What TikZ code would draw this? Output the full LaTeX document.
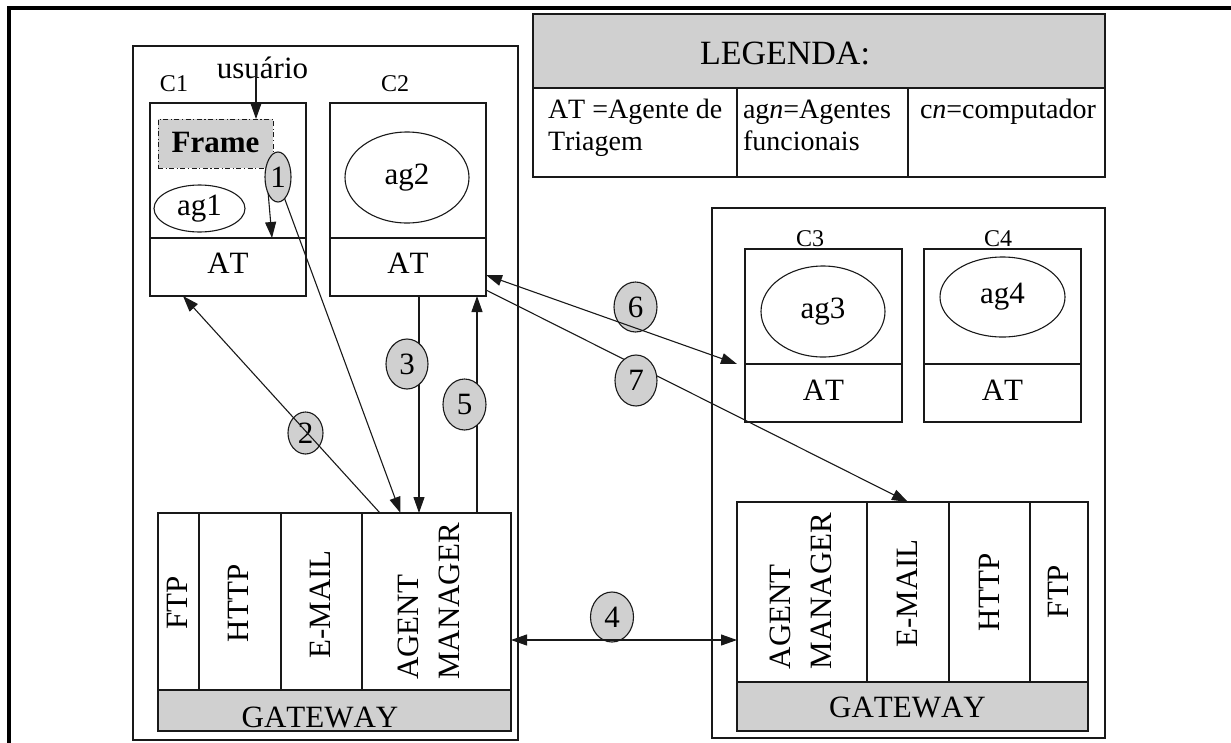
\documentclass[tikz,border=0pt]{standalone}
\usepackage{fontspec}
\setmainfont{Liberation Serif}[Kerning=Off]
\usetikzlibrary{arrows.meta,shapes.geometric}
\definecolor{lg}{RGB}{208,208,208}
\definecolor{dk}{RGB}{25,25,25}
\newcommand{\fsM}{\fontsize{31}{41}\selectfont}
\newcommand{\fsC}{\fontsize{24}{28}\selectfont}
\newcommand{\fsL}{\fontsize{28}{32}\selectfont}
\newcommand{\fsH}{\fontsize{34}{38}\selectfont}
\begin{document}
\begin{tikzpicture}[x=1pt,y=-1pt,
  box/.style={draw=dk, line width=1.1pt, rectangle, inner sep=0pt, outer sep=0pt},
  gbox/.style={box, fill=lg},
  ell/.style={draw=dk, line width=1.1pt, ellipse, inner sep=0pt, outer sep=0pt, font=\fsM},
  num/.style={ell, fill=lg},
  txt/.style={inner sep=0pt, outer sep=0pt, font=\fsM},
  ltxt/.style={inner sep=0pt, outer sep=0pt, font=\fsL, anchor=base west},
  attext/.style={font=\fsM, text height=13pt, text depth=0pt},
  arr/.style={draw=dk, line width=1.1pt, -{Triangle[length=16pt,width=11pt]}},
  darr/.style={draw=dk, line width=1.1pt, {Triangle[length=16pt,width=11pt]}-{Triangle[length=16pt,width=11pt]}}
]
\useasboundingbox (0,0) rectangle (1231,742);

% outer frame
\draw[line width=3.6pt] (9,745) -- (9,8) -- (1235,8);

% group boxes
\node[box, minimum width=385pt, minimum height=694pt] (g1) at (325.5,393) {};
\node[box, minimum width=393pt, minimum height=530pt] (g2) at (908.5,473) {};

% legend
\node[gbox, minimum width=572pt, minimum height=74pt] (legh) at (819,51) {};
\node[box, minimum width=204pt, minimum height=89pt] (leg1) at (635,132.5) {};
\node[box, minimum width=171pt, minimum height=89pt] (leg2) at (822.5,132.5) {};
\node[box, minimum width=197pt, minimum height=89pt] (leg3) at (1006.5,132.5) {};
\node[txt, font=\fsH, anchor=base] (tleg) at (785,64) {LEGENDA:};
\node[ltxt] (l1a) at (548,118) {AT =Agente de};
\node[ltxt] (l1b) at (548,150) {Triagem};
\node[ltxt] (l2a) at (743,118) {ag\textit{n}=Agentes};
\node[ltxt] (l2b) at (743,150) {funcionais};
\node[ltxt] (l3a) at (920,118) {c\textit{n}=computador};

% computers C1, C2
\node[box, minimum width=156pt, minimum height=135pt] (c1top) at (228,170.5) {};
\node[box, attext, text height=12pt, minimum width=156pt, minimum height=58pt] (c1at) at (228,267) {AT};
\node[box, minimum width=156pt, minimum height=135pt] (c2top) at (408,170.5) {};
\node[box, attext, text height=12pt, minimum width=156pt, minimum height=58pt] (c2at) at (408,267) {AT};
\node[txt, font=\fsC, anchor=base] (lc1) at (174,91) {C1};
\node[txt, font=\fsC, anchor=base] (lc2) at (395,91) {C2};

% computers C3, C4
\node[box, minimum width=157pt, minimum height=115pt] (c3top) at (823.5,306.5) {};
\node[box, attext, text height=14pt, minimum width=157pt, minimum height=58pt] (c3at) at (823.5,393) {AT};
\node[box, minimum width=157pt, minimum height=115pt] (c4top) at (1002.5,306.5) {};
\node[box, attext, text height=14pt, minimum width=157pt, minimum height=58pt] (c4at) at (1002.5,393) {AT};
\node[txt, font=\fsC, anchor=base] (lc3) at (810,246) {C3};
\node[txt, font=\fsC, anchor=base] (lc4) at (998,246) {C4};

% agents
\node[ell, minimum width=91pt, minimum height=47pt] (ag1) at (199.5,208.5) {ag1};
\node[ell, minimum width=124pt, minimum height=91pt] (ag2) at (407,177.5) {ag2};
\node[ell, minimum width=124pt, minimum height=91pt] (ag3) at (823,311.5) {ag3};
\node[ell, minimum width=125pt, minimum height=80pt] (ag4) at (1002.5,297) {ag4};

% frame and user
\node[box, fill=lg, dash pattern=on 5pt off 2.5pt on 1.2pt off 2.5pt, line width=1pt,
      minimum width=115pt, minimum height=49pt, font=\fsM\bfseries, text height=17pt, text depth=0pt] (frame) at (215.5,143.5) {Frame};
\node[txt, anchor=base] (usr) at (262.5,78) {usuário};

% left gateway
\node[box, minimum width=41pt, minimum height=177pt] (ftp1) at (178.5,601.5) {};
\node[box, minimum width=82pt, minimum height=177pt] (http1) at (240,601.5) {};
\node[box, minimum width=81pt, minimum height=177pt] (em1) at (321.5,601.5) {};
\node[box, minimum width=149pt, minimum height=177pt] (am1) at (436.5,601.5) {};
\node[gbox, minimum width=353pt, minimum height=41pt] (gw1) at (334.5,710.5) {};
\node[txt, rotate=90] (tftp1) at (177.5,603) {FTP};
\node[txt, rotate=90] (thttp1) at (238.5,603.5) {HTTP};
\node[txt, rotate=90] (tem1) at (320,604.5) {E-MAIL};
\node[txt, rotate=90, align=left] (tam1) at (428.5,601.5) {AGENT\\MANAGER};
\node[txt, anchor=base] (tgw1) at (320,727) {GATEWAY};

% right gateway
\node[box, minimum width=130pt, minimum height=180pt] (am2) at (802,592) {};
\node[box, minimum width=82pt, minimum height=180pt] (em2) at (908,592) {};
\node[box, minimum width=81pt, minimum height=180pt] (http2) at (989.5,592) {};
\node[box, minimum width=58pt, minimum height=180pt] (ftp2) at (1059,592) {};
\node[gbox, minimum width=351pt, minimum height=49pt] (gw2) at (912.5,706.5) {};
\node[txt, rotate=90, align=left] (tam2) at (801,591) {AGENT\\MANAGER};
\node[txt, rotate=90] (tem2) at (907.5,593.5) {E-MAIL};
\node[txt, rotate=90] (thttp2) at (989.5,592.5) {HTTP};
\node[txt, rotate=90] (tftp2) at (1058,591.5) {FTP};
\node[txt, anchor=base] (tgw2) at (907.5,717) {GATEWAY};

% connectors under the numbered ellipses
\coordinate (usrtop) at (256,70);
\draw[arr] (usrtop) -- (usrtop |- frame.north);
\draw[arr] ([xshift=-7pt]frame.south east) -- ([xshift=44pt]c1at.north);
\coordinate (a3s) at ([xshift=11pt]c2at.south);
\draw[arr] (a3s) -- (a3s |- am1.north);
\coordinate (a5e) at ([xshift=69pt]c2at.south);
\draw[arr] (a5e |- am1.north) -- (a5e);
\draw[arr] ([yshift=6pt]c2at.south east) -- (em2.north);

% numbered ellipses
\node[num, minimum width=26pt, minimum height=50pt] (e1) at (278,177) {1};
\node[num, minimum width=35pt, minimum height=42pt] (e2) at (305.5,433) {2};
\node[num, minimum width=42pt, minimum height=50pt] (e3) at (407,364) {3};
\node[num, minimum width=43pt, minimum height=50pt] (e4) at (612,617) {4};
\node[num, minimum width=43pt, minimum height=51pt] (e5) at (464.5,404.5) {5};
\node[num, minimum width=43pt, minimum height=50pt] (e6) at (635.5,307) {6};
\node[num, minimum width=42pt, minimum height=51pt] (e7) at (636,380.5) {7};

% connectors over the ellipses
\draw[arr] (e1.-73) -- ([xshift=-36pt]am1.north);
\draw[arr] ([xshift=18pt]am1.north west) -- ([xshift=-45pt]c1at.south);
\coordinate (a4s) at ([yshift=-38.5pt]am1.east);
\draw[darr] (a4s) -- (a4s -| am2.west);
\draw[darr] ([yshift=-8pt]c2at.east) -- ([xshift=-8pt]c3at.north west);
\end{tikzpicture}
\end{document}
